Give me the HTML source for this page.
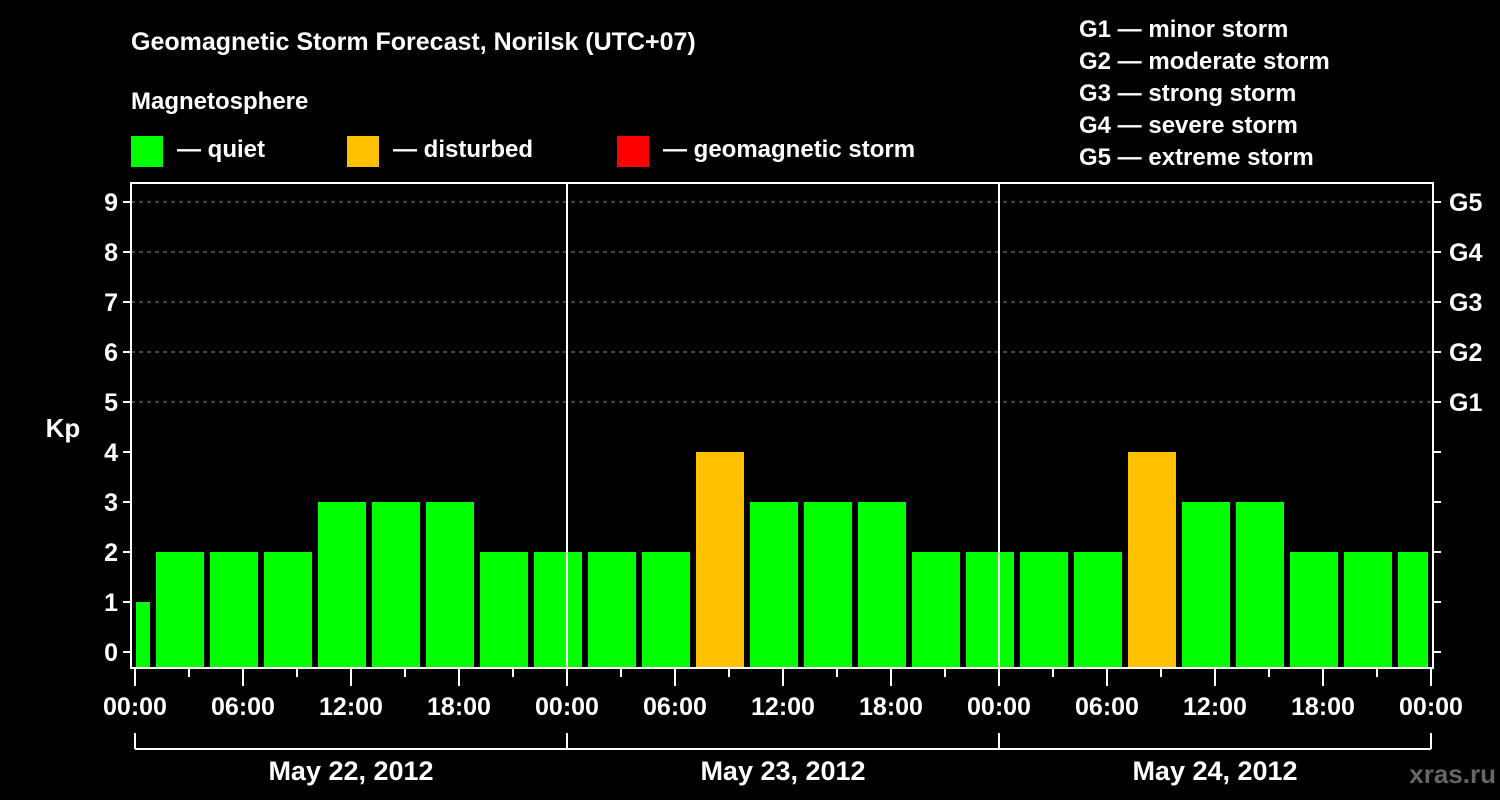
<!DOCTYPE html>
<html><head><meta charset="utf-8"><style>
html,body{margin:0;padding:0;background:#000;}
svg{display:block;font-family:"Liberation Sans",Arial,sans-serif;font-weight:bold;}
</style></head><body>
<svg id="chart" width="1500" height="800" viewBox="0 0 1500 800">
<text x="131" y="50" fill="#fff" font-size="25">Geomagnetic Storm Forecast, Norilsk (UTC+07)</text>
<text x="131" y="109" fill="#fff" font-size="24">Magnetosphere</text>
<g><rect x="131" y="136" width="32" height="31" fill="#00ff00"/><text x="177" y="157" fill="#fff" font-size="24">— quiet</text></g>
<g><rect x="347" y="136" width="32" height="31" fill="#ffc000"/><text x="393" y="157" fill="#fff" font-size="24">— disturbed</text></g>
<g><rect x="617" y="136" width="32" height="31" fill="#ff0000"/><text x="663" y="157" fill="#fff" font-size="24">— geomagnetic storm</text></g>
<g fill="#fff" font-size="24">
<text x="1079" y="37">G1 — minor storm</text>
<text x="1079" y="69">G2 — moderate storm</text>
<text x="1079" y="101">G3 — strong storm</text>
<text x="1079" y="133">G4 — severe storm</text>
<text x="1079" y="165">G5 — extreme storm</text>
</g>
<text x="63" y="437" fill="#fff" font-size="26" text-anchor="middle">Kp</text>
<text x="1496" y="783" fill="#666" font-size="26" text-anchor="end">xras.ru</text>
<g id="plot"></g>
</svg>
<script>
const kpValues=[1,2,2,2,3,3,3,2,2,2,2,4,3,3,3,2,2,2,2,4,3,3,2,2,2];
const barStartHours=[-2,1,4,7,10,13,16,19,22,25,28,31,34,37,40,43,46,49,52,55,58,61,64,67,70];
const xTickLabels=["00:00","06:00","12:00","18:00","00:00","06:00","12:00","18:00","00:00","06:00","12:00","18:00","00:00"];
const dayLabels=["May 22, 2012","May 23, 2012","May 24, 2012"];
const yTickLabels=["0","1","2","3","4","5","6","7","8","9"];
const gLabels=["G1","G2","G3","G4","G5"];
const NS="http://www.w3.org/2000/svg";
const g=document.getElementById('plot');
const X0=135,PXH=18,Y0=652,PXK=50,L=131,R=1433,T=183,B=668;
const xs=h=>X0+h*PXH, ys=k=>Y0-k*PXK;
function mk(t,a){const e=document.createElementNS(NS,t);for(const k in a)e.setAttribute(k,a[k]);g.appendChild(e);return e;}
// grid dashed
for(let k=5;k<=9;k++){const e=mk('line',{x1:L,x2:R,y1:ys(k),y2:ys(k),stroke:'#888','stroke-dasharray':'4,4','stroke-width':1});

}
// bars
kpValues.forEach((v,i)=>{let a=xs(barStartHours[i])+3,b=xs(barStartHours[i]+3)-3;a=Math.max(a,X0+1);b=Math.min(b,xs(72)-3);
const col=v>=5?'#ff0000':(v>=4?'#ffc000':'#00ff00');
const e=mk('rect',{x:a,y:ys(v),width:b-a,height:B-ys(v),fill:col});

});
// day separators
[1,2].forEach(d=>{const e=mk('line',{x1:xs(24*d),x2:xs(24*d),y1:T,y2:B,stroke:'#fff','stroke-width':2});

});
// frame
const fr=mk('rect',{x:L,y:T,width:R-L,height:B-T,fill:'none',stroke:'#fff','stroke-width':2});


// y ticks
yTickLabels.forEach((s,k)=>{mk('line',{x1:L-8,x2:L,y1:ys(k),y2:ys(k),stroke:'#fff','stroke-width':2});
mk('line',{x1:R,x2:R+8,y1:ys(k),y2:ys(k),stroke:'#fff','stroke-width':2});
const t=mk('text',{x:L-13,y:ys(k)+9,fill:'#fff','font-size':25,'text-anchor':'end'});t.textContent=s;

});
gLabels.forEach((s,i)=>{const t=mk('text',{x:R+16,y:ys(5+i)+9,fill:'#fff','font-size':25});t.textContent=s;

});
// x ticks
for(let h=0;h<=72;h+=3){const major=h%6===0;mk('line',{x1:xs(h),x2:xs(h),y1:B,y2:B+(major?18:9),stroke:'#fff','stroke-width':2});}
xTickLabels.forEach((s,i)=>{const t=mk('text',{x:xs(i*6),y:715,fill:'#fff','font-size':25,'text-anchor':'middle'});t.textContent=s;

});
// day bracket
mk('line',{x1:xs(0),x2:xs(72),y1:749,y2:749,stroke:'#fff','stroke-width':2});
for(let d=0;d<=3;d++)mk('line',{x1:xs(24*d),x2:xs(24*d),y1:733,y2:749,stroke:'#fff','stroke-width':2});
dayLabels.forEach((s,i)=>{const t=mk('text',{x:xs(24*i+12),y:780,fill:'#fff','font-size':27,'text-anchor':'middle'});t.textContent=s;

});
</script>
</body></html>
